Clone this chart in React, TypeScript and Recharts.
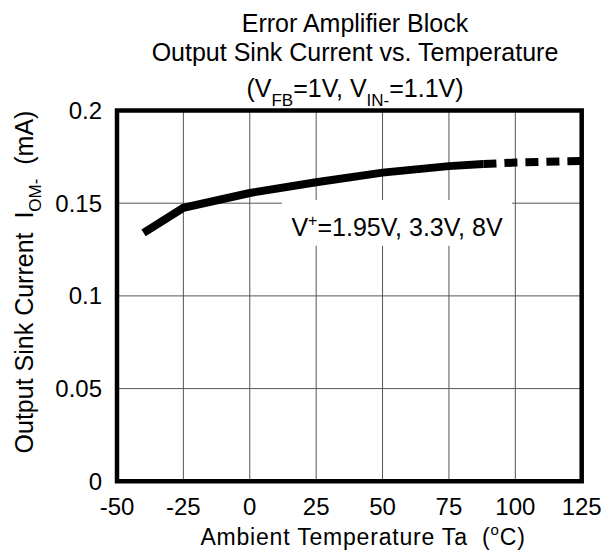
import React from 'react';
import { LineChart, Line, XAxis, YAxis, CartesianGrid, ReferenceArea } from 'recharts';

const xTicks = [-50, -25, 0, 25, 50, 75, 100, 125];
const yTicks = [0, 0.05, 0.1, 0.15, 0.2];

const solidTemps = [-40, -25, 0, 25, 50, 75, 88];
const solidValues = [0.134, 0.1475, 0.1555, 0.1613, 0.1665, 0.17, 0.1711];
const dashTemps = [88, 100, 125];
const dashValues = [0.1711, 0.1719, 0.1728];

const solidData = solidTemps.map((t, i) => ({ t, v: solidValues[i] }));
const dashData = dashTemps.map((t, i) => ({ t, v: dashValues[i] }));

const FONT = '"Liberation Sans", Arial, sans-serif';
const W = 613;
const H = 560;
const PRE = { whiteSpace: 'pre' as const };

const AnnotationLabel = (props: any) => {
  const vb = props.viewBox || {};
  const cx = vb.x + vb.width / 2;
  const cy = vb.y + vb.height / 2;
  return (
    <text x={cx} y={cy + 13} textAnchor="middle" fontFamily={FONT} fontSize={25} fill="#000">
      V<tspan fontSize={16} dy={-10}>+</tspan>
      <tspan dy={10}>=1.95V, 3.3V, 8V</tspan>
    </text>
  );
};

export default function App() {
  return (
    <div style={{ position: 'absolute', left: 0, top: 0, width: W, height: H, background: '#fff' }}>
      <LineChart
        width={W}
        height={H}
        margin={{ top: 110.5, right: 31.3, bottom: 48.7, left: 57 }}
        style={{ fontFamily: FONT }}
      >
        <CartesianGrid stroke="#555" strokeWidth={1} vertical horizontal />
        <XAxis
          dataKey="t"
          type="number"
          domain={[-50, 125]}
          ticks={xTicks}
          axisLine={false}
          tickLine={false}
          tickSize={0}
          tickMargin={17}
          height={30}
          allowDataOverflow
          interval={0}
          tick={{ fill: '#000', fontSize: 24, fontFamily: FONT }}
        />
        <YAxis
          dataKey="v"
          type="number"
          domain={[0, 0.2]}
          ticks={yTicks}
          axisLine={false}
          tickLine={false}
          tickSize={0}
          tickMargin={15}
          width={60}
          allowDataOverflow
          interval={0}
          tick={{ fill: '#000', fontSize: 24, fontFamily: FONT }}
        />
        <ReferenceArea
          x1={12.1}
          x2={98.8}
          y1={0.127}
          y2={0.1517}
          fill="#fff"
          fillOpacity={1}
          stroke="none"
          label={<AnnotationLabel />}
        />
        <Line
          data={solidData}
          dataKey="v"
          type="linear"
          stroke="#000"
          strokeWidth={8}
          dot={false}
          isAnimationActive={false}
          strokeLinecap="butt"
        />
        <Line
          data={dashData}
          dataKey="v"
          type="linear"
          stroke="#000"
          strokeWidth={8}
          strokeDasharray="13 8"
          dot={false}
          isAnimationActive={false}
          strokeLinecap="butt"
        />
        <ReferenceArea
          x1={-50}
          x2={125}
          y1={0}
          y2={0.2}
          fill="none"
          stroke="#000"
          strokeWidth={4.5}
          ifOverflow="visible"
        />
      </LineChart>
      <svg
        width={W}
        height={H}
        style={{ position: 'absolute', left: 0, top: 0, pointerEvents: 'none' }}
      >
        <g fontFamily={FONT} fill="#000" fontSize={25} textAnchor="middle">
          <text x={355} y={32}>Error Amplifier Block</text>
          <text x={355} y={61}>Output Sink Current vs. Temperature</text>
          <text x={355} y={97}>
            (V<tspan fontSize={17} dy={9}>FB</tspan>
            <tspan dy={-9}>=1V, V</tspan>
            <tspan fontSize={17} dy={9}>IN-</tspan>
            <tspan dy={-9}>=1.1V)</tspan>
          </text>
          <text x={363} y={545} fontSize={23} letterSpacing={0.8} style={PRE}>
            {'Ambient Temperature Ta  ('}
            <tspan fontSize={15} dy={-10}>o</tspan>
            <tspan dy={10}>C)</tspan>
          </text>
          <text x={33} y={282} transform="rotate(-90 33 282)" style={PRE}>
            {'Output Sink Current  I'}
            <tspan fontSize={17} dy={8}>OM-</tspan>
            <tspan dy={-8}>{'  (mA)'}</tspan>
          </text>
        </g>
      </svg>
    </div>
  );
}
